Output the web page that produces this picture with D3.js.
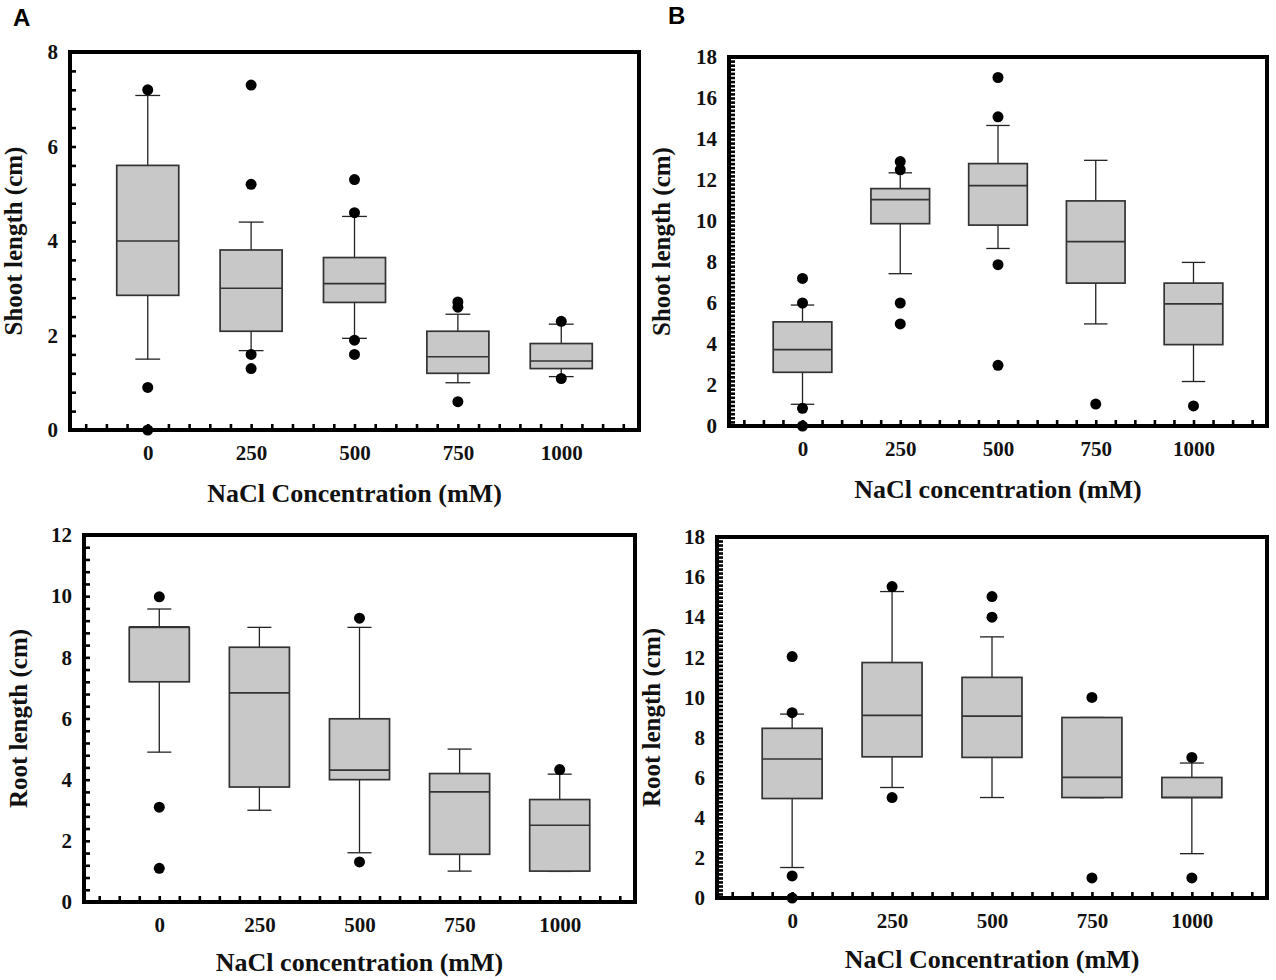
<!DOCTYPE html>
<html>
<head>
<meta charset="utf-8">
<script src="https://cdn.jsdelivr.net/npm/d3@7"></script>
<style>
  body { margin: 0; background: #fff; }
  svg { display: block; }
</style>
</head>
<body>
<svg id="chart" width="1276" height="980"></svg>
<script>
// NaCl concentrations (mM), one box per concentration
const concentrations = [0, 250, 500, 750, 1000];

// box summaries: [lower whisker, Q1, median, Q3, upper whisker]
const shootA_box = [
  [1.5, 2.85, 4.0, 5.6, 7.08],
  [1.68, 2.09, 3.0, 3.81, 4.4],
  [1.94, 2.7, 3.1, 3.65, 4.52],
  [1.0, 1.2, 1.55, 2.09, 2.45],
  [1.13, 1.3, 1.46, 1.83, 2.24]
];
const shootA_outliers = [[7.2, 0.9, 0], [7.3, 5.2, 1.6, 1.3], [5.3, 4.6, 1.9, 1.6], [2.71, 2.6, 0.6], [2.3, 1.09]];

const shootB_box = [
  [1.06, 2.62, 3.73, 5.08, 5.9],
  [7.43, 9.87, 11.04, 11.58, 12.35],
  [8.66, 9.8, 11.73, 12.8, 14.66],
  [4.98, 6.97, 8.99, 10.98, 12.96],
  [2.17, 3.97, 5.96, 6.97, 7.98]
];
const shootB_outliers = [[7.2, 6.0, 0.86, 0], [12.9, 12.5, 6.0, 4.98], [17.0, 15.08, 7.87, 2.96], [1.07], [0.98]];

const rootA_box = [
  [4.9, 7.2, 9.0, 8.98, 9.58],
  [3.0, 3.76, 6.84, 8.33, 8.98],
  [1.61, 4.0, 4.31, 5.99, 8.98],
  [1.01, 1.56, 3.6, 4.2, 5.0],
  [1.0, 1.01, 2.51, 3.35, 4.18]
];
const rootA_outliers = [[9.98, 3.1, 1.1], [], [9.28, 1.31], [], [4.33]];

const rootB_box = [
  [1.52, 4.96, 6.93, 8.46, 9.17],
  [5.51, 7.04, 9.11, 11.74, 15.28],
  [5.01, 7.01, 9.07, 11.0, 13.02],
  [5.0, 5.01, 6.01, 9.0, 9.0],
  [2.21, 5.01, 5.01, 6.01, 6.73]
];
const rootB_outliers = [[12.04, 9.24, 1.1, 0], [15.53, 5.01], [15.03, 14.0], [10.0, 1.0], [7.01, 1.0]];

// tick values
const ticks8 = [0, 2, 4, 6, 8];
const ticks12 = [0, 2, 4, 6, 8, 10, 12];
const ticks18 = [0, 2, 4, 6, 8, 10, 12, 14, 16, 18];

const svg = d3.select("#chart");
const serif = "'Liberation Serif', 'Times New Roman', serif";

function drawPanel(p) {
  const x = d3.scaleLinear().domain([-188, 1188]).range([p.left, p.right]);
  const y = d3.scaleLinear().domain([0, p.ymax]).range([p.bottom, p.top]);
  const g = svg.append("g");

  const boxW = x(150) - x(0);
  const capW = x(60) - x(0);

  const box = g.append("g")
    .selectAll("g")
    .data(concentrations.map((c, i) => ({ c, s: p.box[i], out: p.outliers[i] })))
    .join("g");

  // whiskers
  box.append("line")
    .attr("x1", d => x(d.c)).attr("x2", d => x(d.c))
    .attr("y1", d => y(d.s[0])).attr("y2", d => y(d.s[1]))
    .attr("stroke", "#222").attr("stroke-width", 1.3);
  box.append("line")
    .attr("x1", d => x(d.c)).attr("x2", d => x(d.c))
    .attr("y1", d => y(d.s[3])).attr("y2", d => y(d.s[4]))
    .attr("stroke", "#222").attr("stroke-width", 1.3);
  box.append("line")
    .attr("x1", d => x(d.c) - capW / 2).attr("x2", d => x(d.c) + capW / 2)
    .attr("y1", d => y(d.s[0])).attr("y2", d => y(d.s[0]))
    .attr("stroke", "#222").attr("stroke-width", 1.3);
  box.append("line")
    .attr("x1", d => x(d.c) - capW / 2).attr("x2", d => x(d.c) + capW / 2)
    .attr("y1", d => y(d.s[4])).attr("y2", d => y(d.s[4]))
    .attr("stroke", "#222").attr("stroke-width", 1.3);

  box.append("rect")
    .attr("x", d => x(d.c) - boxW / 2)
    .attr("width", boxW)
    .attr("y", d => y(Math.max(d.s[1], d.s[3])))
    .attr("height", d => Math.abs(y(d.s[1]) - y(d.s[3])))
    .attr("fill", "#c8c8c8")
    .attr("stroke", "#333")
    .attr("stroke-width", 1.7);

  box.append("line")
    .attr("x1", d => x(d.c) - boxW / 2).attr("x2", d => x(d.c) + boxW / 2)
    .attr("y1", d => y(d.s[2])).attr("y2", d => y(d.s[2]))
    .attr("stroke", "#333").attr("stroke-width", 1.7);

  box.selectAll("circle")
    .data(d => d.out.map(v => ({ c: d.c, v })))
    .join("circle")
    .attr("cx", d => x(d.c))
    .attr("cy", d => y(d.v))
    .attr("r", 5.5)
    .attr("fill", "#000");

  // minor ticks, pointing inward
  g.append("g")
    .attr("transform", `translate(${p.left},0)`)
    .call(d3.axisLeft(y).tickValues(d3.range(0, p.ymax + 1e-9, p.minor)).tickSize(-6).tickFormat(""))
    .call(a => a.select(".domain").remove())
    .call(a => a.selectAll("line").attr("stroke", "#000").attr("stroke-width", 2.6));

  g.append("g")
    .attr("transform", `translate(0,${p.bottom})`)
    .call(d3.axisBottom(x).tickValues(d3.range(-150, 1151, 50)).tickSize(-6).tickFormat(""))
    .call(a => a.select(".domain").remove())
    .call(a => a.selectAll("line").attr("stroke", "#000").attr("stroke-width", 2.6));

  // tick labels
  g.append("g")
    .attr("transform", `translate(${p.left},0)`)
    .call(d3.axisLeft(y).tickValues(p.ticks).tickSize(0).tickPadding(12))
    .call(a => a.select(".domain").remove())
    .call(a => a.selectAll("text")
      .attr("font-family", serif).attr("font-weight", "bold")
      .attr("font-size", 21).attr("fill", "#111"));

  g.append("g")
    .attr("transform", `translate(0,${p.bottom})`)
    .call(d3.axisBottom(x).tickValues(concentrations).tickFormat(d3.format("d")).tickSize(0))
    .call(a => a.select(".domain").remove())
    .call(a => a.selectAll("text")
      .attr("y", 30).attr("dy", 0)
      .attr("font-family", serif).attr("font-weight", "bold")
      .attr("font-size", 21).attr("fill", "#111"));

  // frame
  g.append("rect")
    .attr("x", p.left).attr("y", p.top)
    .attr("width", p.right - p.left).attr("height", p.bottom - p.top)
    .attr("fill", "none").attr("stroke", "#000").attr("stroke-width", 4);

  // titles
  g.append("text")
    .attr("x", (p.left + p.right) / 2)
    .attr("y", p.bottom + p.xTitleDy)
    .attr("text-anchor", "middle")
    .attr("font-family", serif).attr("font-weight", "bold")
    .attr("font-size", 26).attr("fill", "#111")
    .text(p.xTitle);

  g.append("text")
    .attr("transform", `translate(${p.yTitleX},${(p.top + p.bottom) / 2}) rotate(-90)`)
    .attr("text-anchor", "middle")
    .attr("font-family", serif).attr("font-weight", "bold")
    .attr("font-size", 25).attr("fill", "#111")
    .text(p.yTitle);
}

drawPanel({
  left: 70, right: 639, top: 52, bottom: 430, ymax: 8, minor: 0.4, ticks: ticks8,
  box: shootA_box, outliers: shootA_outliers,
  xTitle: "NaCl Concentration (mM)", xTitleDy: 72,
  yTitle: "Shoot length (cm)", yTitleX: 22
});
drawPanel({
  left: 729, right: 1267, top: 57, bottom: 426, ymax: 18, minor: 0.2, ticks: ticks18,
  box: shootB_box, outliers: shootB_outliers,
  xTitle: "NaCl concentration (mM)", xTitleDy: 72,
  yTitle: "Shoot length (cm)", yTitleX: 670
});
drawPanel({
  left: 84, right: 635, top: 535, bottom: 902, ymax: 12, minor: 0.4, ticks: ticks12,
  box: rootA_box, outliers: rootA_outliers,
  xTitle: "NaCl concentration (mM)", xTitleDy: 69,
  yTitle: "Root length (cm)", yTitleX: 27
});
drawPanel({
  left: 717, right: 1267, top: 537, bottom: 898, ymax: 18, minor: 0.2, ticks: ticks18,
  box: rootB_box, outliers: rootB_outliers,
  xTitle: "NaCl Concentration (mM)", xTitleDy: 70,
  yTitle: "Root length (cm)", yTitleX: 660
});

// panel letters
svg.append("text").attr("x", 13).attr("y", 26)
  .attr("font-family", "'Liberation Sans', Arial, sans-serif").attr("font-weight", "bold")
  .attr("font-size", 24).text("A");
svg.append("text").attr("x", 668).attr("y", 24)
  .attr("font-family", "'Liberation Sans', Arial, sans-serif").attr("font-weight", "bold")
  .attr("font-size", 24).text("B");
</script>
</body>
</html>
